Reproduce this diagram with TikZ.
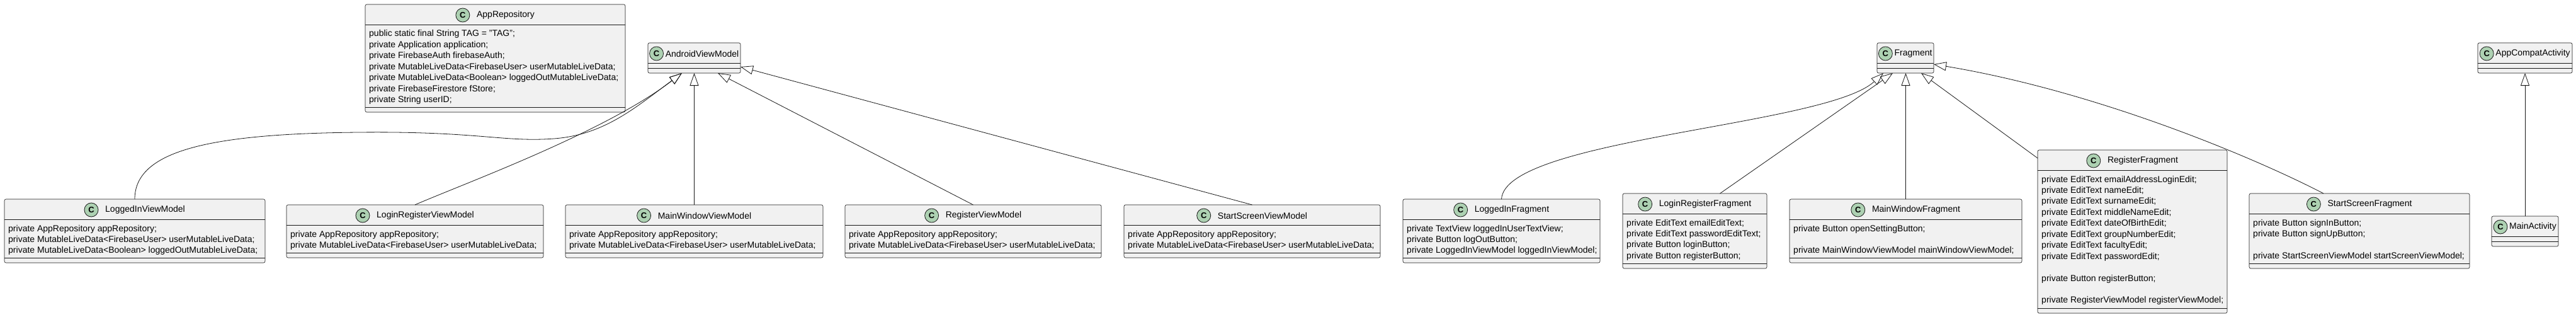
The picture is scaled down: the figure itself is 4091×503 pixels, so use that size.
\documentclass[tikz,border=0pt]{standalone}
\usepackage{fontspec}
\setmainfont{Liberation Sans}
\usetikzlibrary{arrows.meta,calc,fit}
\definecolor{ink}{HTML}{181818}
\definecolor{boxfill}{HTML}{F1F1F1}
\definecolor{circfill}{HTML}{ADD1B2}
\tikzset{
 classbox/.style={draw=ink, line width=0.6pt, fill=boxfill, rounded corners=2.5pt, inner sep=0pt, outer sep=0pt},
 sepline/.style={draw=ink, line width=0.6pt},
 ctitle/.style={font=\fontsize{14}{16}\selectfont, inner sep=0pt, anchor=center},
 cattr/.style={font=\fontsize{14}{16}\selectfont, inner sep=0pt, anchor=base west},
 circ/.style={circle, draw=ink, line width=0.8pt, fill=circfill, minimum size=22pt, inner sep=0pt, font=\fontsize{13}{13}\selectfont\bfseries},
 ext/.style={draw=ink, line width=0.8pt, -{Triangle[open, length=20pt, width=14pt]}},
}
% #1 name, #2 left, #3 top, #4 right, #5 bottom, #6 title, #7 gap, #8 attribute lines
\newcommand\umlclass[8]{%
 \node[classbox, fit={(#2,#3) (#4,#5)}] (#1) {};
 \draw[sepline] ([yshift=-32pt]#1.north west) -- ([yshift=-32pt]#1.north east);
 \draw[sepline] ([yshift=8pt]#1.south west) -- ([yshift=8pt]#1.south east);
 \node[ctitle] (#1-t) at ([xshift={(22+#7)/2}, yshift=-17pt]#1.north) {#6};
 \node[circ] at ([xshift={-(11+#7)}]#1-t.west) {C};
 \foreach \t [count=\i] in {#8} {\node[cattr] at ([xshift=6pt, yshift={-(51+(\i-1)*17.45)}]#1.north west) {\t};}
}
\begin{document}
\begin{tikzpicture}[x=1pt,y=-1pt]
\useasboundingbox (0,0) rectangle (4091,503);
% classes
\umlclass{repo}{580}{7}{993}{178}{AppRepository}{11}{public static final String TAG = "TAG";,private Application application;,private FirebaseAuth firebaseAuth;,private MutableLiveData<FirebaseUser> userMutableLiveData;,private MutableLiveData<Boolean> loggedOutMutableLiveData;,private FirebaseFirestore fStore;,private String userID;}
\umlclass{avm}{1029}{68}{1176}{116}{AndroidViewModel}{3}{}
\umlclass{frag}{2981}{68}{3071}{116}{Fragment}{3}{}
\umlclass{aca}{3935}{68}{4085}{116}{AppCompatActivity}{3}{}
\umlclass{lvm}{7}{316}{421}{417}{LoggedInViewModel}{11}{private AppRepository appRepository;,private MutableLiveData<FirebaseUser> userMutableLiveData;,private MutableLiveData<Boolean> loggedOutMutableLiveData;}
\umlclass{lrvm}{455}{325}{863}{409}{LoginRegisterViewModel}{11}{private AppRepository appRepository;,private MutableLiveData<FirebaseUser> userMutableLiveData;}
\umlclass{mwvm}{898}{325}{1307}{409}{MainWindowViewModel}{11}{private AppRepository appRepository;,private MutableLiveData<FirebaseUser> userMutableLiveData;}
\umlclass{rvm}{1342}{325}{1749}{409}{RegisterViewModel}{11}{private AppRepository appRepository;,private MutableLiveData<FirebaseUser> userMutableLiveData;}
\umlclass{ssvm}{1785}{325}{2192}{409}{StartScreenViewModel}{11}{private AppRepository appRepository;,private MutableLiveData<FirebaseUser> userMutableLiveData;}
\umlclass{lif}{2228}{316}{2541}{417}{LoggedInFragment}{11}{private TextView loggedInUserTextView;,private Button logOutButton;,private LoggedInViewModel loggedInViewModel;}
\umlclass{lrf}{2577}{307}{2806}{426}{LoginRegisterFragment}{11}{private EditText emailEditText;,private EditText passwordEditText;,private Button loginButton;,private Button registerButton;}
\umlclass{mwf}{2842}{316}{3211}{417}{MainWindowFragment}{11}{private Button openSettingButton;,{},private MainWindowViewModel mainWindowViewModel;}
\umlclass{rf}{3236}{238}{3537}{497}{RegisterFragment}{11}{private EditText emailAddressLoginEdit;,private EditText nameEdit;,private EditText surnameEdit;,private EditText middleNameEdit;,private EditText dateOfBirthEdit;,private EditText groupNumberEdit;,private EditText facultyEdit;,private EditText passwordEdit;,{},private Button registerButton;,{},private RegisterViewModel registerViewModel;}
\umlclass{ssf}{3572}{307}{3922}{426}{StartScreenFragment}{11}{private Button signInButton;,private Button signUpButton;,{},private StartScreenViewModel startScreenViewModel;}
\umlclass{ma}{3957}{343}{4063}{391}{MainActivity}{3}{}
% view model inheritance
\draw[ext] (lvm.north) .. controls (214,240) and (330,212) .. (570,210) .. controls (760,208) and (800,226) .. (880,220) .. controls (960,214) and (1010,170) .. ([xshift=54pt]avm.south west);
\draw[ext] (lrvm.north) .. controls (740,290) and (960,210) .. ([xshift=54pt]avm.south west);
\draw[ext] (mwvm.north) -- (mwvm.north |- avm.south);
\draw[ext] (rvm.north) -- ([xshift=111pt]avm.south west);
\draw[ext] (ssvm.north) -- ([yshift=-14pt]avm.east);
% fragment inheritance
\draw[ext] (lif.north) .. controls (2390,220) and (2900,200) .. ([xshift=10pt]frag.south west);
\draw[ext] ([xshift=40pt]lrf.north) -- ([xshift=25pt]frag.south west);
\draw[ext] (mwf.north) -- (mwf.north |- frag.south);
\draw[ext] ([yshift=-13pt]rf.north west) -- ([xshift=70pt]frag.south west);
\draw[ext] ([xshift=-57pt]ssf.north) .. controls (3580,250) and (3330,145) .. ([yshift=-10pt]frag.east);
% activity
\draw[ext] (ma.north) -- (ma.north |- aca.south);
\end{tikzpicture}
\end{document}
